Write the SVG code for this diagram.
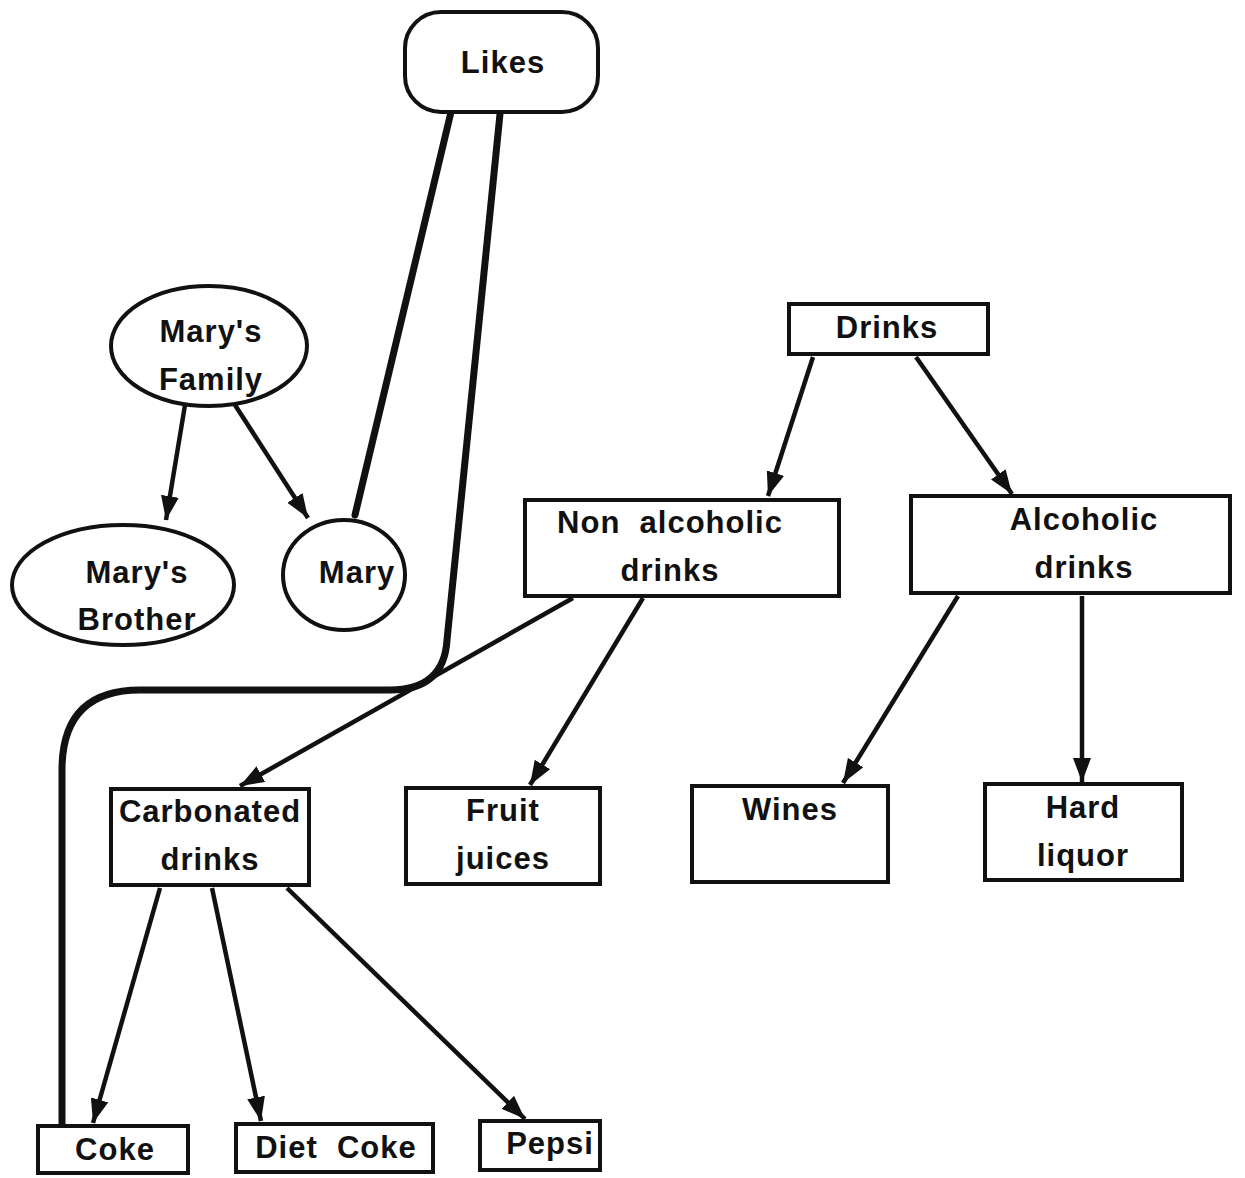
<svg xmlns="http://www.w3.org/2000/svg" width="1245" height="1178" viewBox="0 0 1245 1178">
<defs>
<marker id="ah" viewBox="0 0 24 18" refX="24" refY="9" markerWidth="24" markerHeight="18" markerUnits="userSpaceOnUse" orient="auto">
<path d="M0,0 L24,9 L0,18 z" fill="#111"/>
</marker>
<style>
.n{fill:#fff;stroke:#111;stroke-width:4}
.t{font-family:"Liberation Sans",Arial,sans-serif;font-weight:bold;font-size:31px;fill:#111;text-anchor:middle;letter-spacing:1px}
.a{fill:none;stroke:#111;stroke-width:4.5;marker-end:url(#ah)}
.l{fill:none;stroke:#111;stroke-width:7;stroke-linecap:round}
</style>
</defs>
<rect width="1245" height="1178" fill="#fff"/>
<g id="connectors">
<path class="l" d="M451,112 L355,515"/>
<path class="l" d="M500,114 L447,640 Q444,690 390,690 L140,690 Q62,690 62,770 L62,1124"/>
<path class="a" d="M185,405 L166,520"/>
<path class="a" d="M235,405 L308,518"/>
<path class="a" d="M813,357 L768,496"/>
<path class="a" d="M916,357 L1012,494"/>
<path class="a" d="M573,598 L240,786"/>
<path class="a" d="M643,598 L530,785"/>
<path class="a" d="M958,596 L843,783"/>
<path class="a" d="M1082,596 L1082,782"/>
<path class="a" d="M160,888 L93,1123"/>
<path class="a" d="M212,888 L261,1121"/>
<path class="a" d="M287,888 L525,1119"/>
</g>
<g id="likes"><rect class="n" x="405" y="12" width="193" height="100" rx="36"/><text class="t" x="503" y="73">Likes</text></g>
<g id="marys-family"><ellipse class="n" cx="209" cy="346" rx="98" ry="60"/><text class="t" x="211" y="342">Mary's</text><text class="t" x="211" y="390">Family</text></g>
<g id="marys-brother"><ellipse class="n" cx="123" cy="585" rx="111" ry="60"/><text class="t" x="137" y="583">Mary's</text><text class="t" x="137" y="630">Brother</text></g>
<g id="mary"><ellipse class="n" cx="344" cy="575" rx="61" ry="55"/><text class="t" x="357" y="583">Mary</text></g>
<g id="drinks"><rect class="n" x="789" y="304" width="199" height="50"/><text class="t" x="887" y="338">Drinks</text></g>
<g id="non-alcoholic"><rect class="n" x="525" y="500" width="314" height="96"/><text class="t" x="670" y="533" xml:space="preserve">Non  alcoholic</text><text class="t" x="670" y="581">drinks</text></g>
<g id="alcoholic"><rect class="n" x="911" y="496" width="319" height="97"/><text class="t" x="1084" y="530">Alcoholic</text><text class="t" x="1084" y="578">drinks</text></g>
<g id="carbonated"><rect class="n" x="111" y="789" width="198" height="96"/><text class="t" x="210" y="822">Carbonated</text><text class="t" x="210" y="870">drinks</text></g>
<g id="fruit-juices"><rect class="n" x="406" y="788" width="194" height="96"/><text class="t" x="503" y="821">Fruit</text><text class="t" x="503" y="869">juices</text></g>
<g id="wines"><rect class="n" x="692" y="786" width="196" height="96"/><text class="t" x="790" y="820">Wines</text></g>
<g id="hard-liquor"><rect class="n" x="985" y="784" width="197" height="96"/><text class="t" x="1083" y="818">Hard</text><text class="t" x="1083" y="866">liquor</text></g>
<g id="coke"><rect class="n" x="38" y="1126" width="150" height="47"/><text class="t" x="115" y="1160">Coke</text></g>
<g id="diet-coke"><rect class="n" x="236" y="1124" width="197" height="48"/><text class="t" x="336" y="1158" xml:space="preserve">Diet  Coke</text></g>
<g id="pepsi"><rect class="n" x="480" y="1121" width="120" height="49"/><text class="t" x="550" y="1154">Pepsi</text></g>
</svg>
